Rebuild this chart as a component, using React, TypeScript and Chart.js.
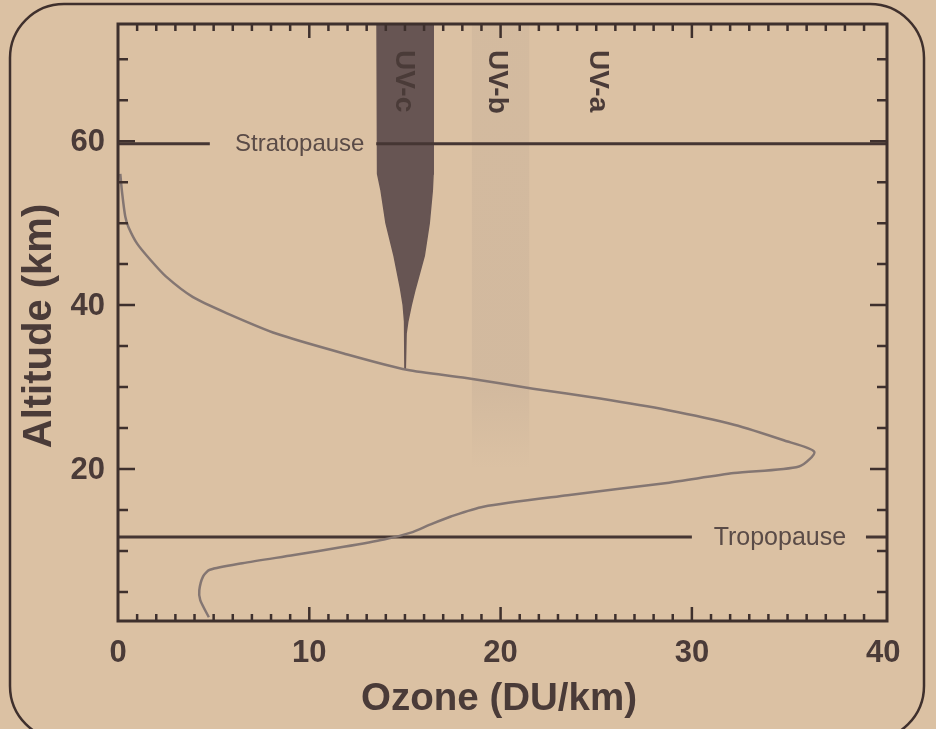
import { useEffect, useRef } from "react";
import { Chart, registerables } from "chart.js";

Chart.register(...registerables);

// Ozone profile (altitude in km, ozone density in DU/km)
const altitudeKm = [1.9, 4.0, 5.2, 6.9, 7.7, 8.5, 9.5, 10.5, 11.4, 12.3, 13.2, 14.2, 15.4, 16.8, 18.3, 19.5, 20.3, 22.1, 23.5, 25.4, 27.2, 28.6, 29.8, 31.1, 32.1, 34.1, 36.5, 39.0, 41.0, 43.5, 45.5, 47.5, 49.5, 50.8, 53.6, 56.0];
const ozoneDU = [4.75, 4.3, 4.25, 4.45, 4.8, 6.5, 9.2, 11.8, 13.9, 15.4, 16.3, 17.4, 19.1, 23.5, 28.7, 32.2, 35.6, 36.4, 34.8, 32.2, 28.7, 25.2, 21.7, 18.2, 15.1, 11.8, 8.3, 5.7, 3.9, 2.5, 1.7, 1.0, 0.55, 0.38, 0.22, 0.12];

// UV-c absorption band outline
const uvcAlt = [74.3, 56, 54, 50, 46, 42, 40, 38, 36.5, 32.3];
const uvcLeft = [13.54, 13.57, 13.75, 14.01, 14.43, 14.77, 14.91, 14.98, 15.0, 15.0];
const uvcRight = [16.48, 16.47, 16.43, 16.27, 16.01, 15.54, 15.33, 15.15, 15.06, 15.02];

// UV-b faint band
const uvbRange = [18.5, 21.5];
const uvbFade = [30, 20];

// UV labels
const uvLabels = ["UV-c", "UV-b", "UV-a"];
const uvLabelX = [14.96, 19.81, 25.06];

// Reference layers
const stratopauseKm = 59.7;
const stratoSegments = [[0, 4.8], [13.5, 40.2]];
const stratoLabelX = 9.5;
const tropopauseKm = 11.7;
const tropoSegments = [[0, 30], [39.1, 40.2]];
const tropoLabelX = 34.6;

// Axes
const xMin = 0, xMax = 40.2;
const yMin = 1.45, yMax = 74.3;
const xTickLabels = [0, 10, 20, 30, 40];
const yTickLabels = [20, 40, 60];
const xTitle = "Ozone (DU/km)";
const yTitle = "Altitude (km)";

const BG = "rgb(219,193,163)";
const INK = "#4a3b38";
const FONT = '"Liberation Sans", Arial, sans-serif';

export default function App() {
  const ref = useRef<HTMLCanvasElement | null>(null);

  useEffect(() => {
    const canvas = ref.current;
    if (!canvas) return;

    const ozonePts = altitudeKm.map((a, i) => ({ x: ozoneDU[i], y: a }));
    const uvcPts = [
      ...uvcAlt.map((a, i) => ({ x: uvcLeft[i], y: a })),
      ...uvcAlt.map((a, i) => ({ x: uvcRight[i], y: a })).reverse(),
    ];
    const segDs = (segs: number[][], alt: number) =>
      segs.map((s) => ({
        data: [{ x: s[0], y: alt }, { x: s[1], y: alt }],
        showLine: true,
        borderColor: "#453633",
        borderWidth: 3,
        pointRadius: 0,
        order: 1,
        fill: false,
      }));

    const decor = {
      id: "decor",
      beforeDraw(chart: any) {
        const { ctx, chartArea: ca, scales } = chart;
        const xs = scales.x, ys = scales.y;
        ctx.save();
        ctx.fillStyle = BG;
        ctx.fillRect(0, 0, chart.width, chart.height);
        // frame
        ctx.strokeStyle = "#3f302d";
        ctx.lineWidth = 2.5;
        ctx.beginPath();
        (ctx as any).roundRect(10, 4, 914, 736, 54);
        ctx.stroke();
        // UV-b band
        const x0 = xs.getPixelForValue(uvbRange[0]);
        const x1 = xs.getPixelForValue(uvbRange[1]);
        const yTop = ca.top;
        const yF0 = ys.getPixelForValue(uvbFade[0]);
        const yF1 = ys.getPixelForValue(uvbFade[1]);
        const g = ctx.createLinearGradient(0, yTop, 0, yF1);
        const r = (yF0 - yTop) / (yF1 - yTop);
        g.addColorStop(0, "rgba(120,108,112,0.08)");
        g.addColorStop(r, "rgba(120,108,112,0.09)");
        g.addColorStop(1, "rgba(120,108,112,0)");
        ctx.fillStyle = g;
        ctx.fillRect(x0, yTop, x1 - x0, yF1 - yTop);
        ctx.restore();
      },
      afterDatasetsDraw(chart: any) {
        const { ctx, chartArea: ca, scales } = chart;
        const xs = scales.x, ys = scales.y;
        ctx.save();
        // axis box
        ctx.strokeStyle = "#3e302d";
        ctx.lineWidth = 3;
        ctx.strokeRect(ca.left, ca.top, ca.right - ca.left, ca.bottom - ca.top);
        // ticks
        ctx.lineWidth = 2.5;
        ctx.beginPath();
        for (let v = 1; v < 40; v++) {
          const px = xs.getPixelForValue(v);
          const len = v % 10 === 0 ? 14 : 7;
          ctx.moveTo(px, ca.bottom);
          ctx.lineTo(px, ca.bottom - len);
          ctx.moveTo(px, ca.top);
          ctx.lineTo(px, ca.top + len);
        }
        for (let a = 5; a <= 70; a += 5) {
          const py = ys.getPixelForValue(a);
          const len = a % 20 === 0 ? 17 : 10;
          ctx.moveTo(ca.left, py);
          ctx.lineTo(ca.left + len, py);
          ctx.moveTo(ca.right, py);
          ctx.lineTo(ca.right - len, py);
        }
        ctx.stroke();

        // tick labels
        ctx.fillStyle = INK;
        ctx.font = `bold 31px ${FONT}`;
        ctx.textAlign = "center";
        ctx.textBaseline = "middle";
        xTickLabels.forEach((v) => {
          ctx.fillText(String(v), xs.getPixelForValue(v), ca.bottom + 32);
        });
        ctx.textAlign = "right";
        yTickLabels.forEach((v) => {
          ctx.fillText(String(v), ca.left - 13, ys.getPixelForValue(v) + 1);
        });

        // titles
        ctx.font = `bold 38.5px ${FONT}`;
        ctx.textAlign = "center";
        ctx.fillText(xTitle, 499, 699);
        ctx.save();
        ctx.translate(40, 326);
        ctx.rotate(-Math.PI / 2);
        ctx.font = `bold 40px ${FONT}`;
        ctx.fillText(yTitle, 0, 0);
        ctx.restore();

        // UV labels
        ctx.font = `bold 28px ${FONT}`;
        ctx.textAlign = "left";
        uvLabels.forEach((t, i) => {
          ctx.save();
          ctx.translate(xs.getPixelForValue(uvLabelX[i]), 50);
          ctx.rotate(Math.PI / 2);
          ctx.fillText(t, 0, 0);
          ctx.restore();
        });

        // layer labels
        ctx.fillStyle = "#5a4b47";
        ctx.textAlign = "center";
        ctx.font = `24px ${FONT}`;
        ctx.fillText("Stratopause", xs.getPixelForValue(stratoLabelX), ys.getPixelForValue(stratopauseKm) + 1);
        ctx.font = `25px ${FONT}`;
        ctx.fillText("Tropopause", xs.getPixelForValue(tropoLabelX), ys.getPixelForValue(tropopauseKm) + 1);
        ctx.restore();
      },
    };

    const chart = new Chart(canvas, {
      type: "scatter",
      data: {
        datasets: [
          {
            data: ozonePts,
            showLine: true,
            borderColor: "#847672",
            borderWidth: 2.5,
            pointRadius: 0,
            tension: 0.25,
            fill: false,
            order: 0,
          } as any,
          ...segDs(stratoSegments, stratopauseKm),
          ...segDs(tropoSegments, tropopauseKm),
          {
            data: uvcPts,
            showLine: true,
            borderColor: "#675553",
            backgroundColor: "#675553",
            borderWidth: 1.5,
            pointRadius: 0,
            fill: "shape",
            order: 3,
          } as any,
        ],
      },
      options: {
        responsive: false,
        animation: false,
        events: [],
        layout: { padding: { left: 118, top: 24, right: 49, bottom: 108 } },
        scales: {
          x: { type: "linear", min: xMin, max: xMax, display: false },
          y: { type: "linear", min: yMin, max: yMax, display: false },
        },
        plugins: { legend: { display: false }, tooltip: { enabled: false } },
      },
      plugins: [decor],
    });
    return () => chart.destroy();
  }, []);

  return (
    <div style={{ position: "fixed", left: 0, top: 0, width: 936, height: 729, background: BG }}>
      <canvas ref={ref} width={936} height={729} style={{ display: "block", width: 936, height: 729 }} />
    </div>
  );
}
